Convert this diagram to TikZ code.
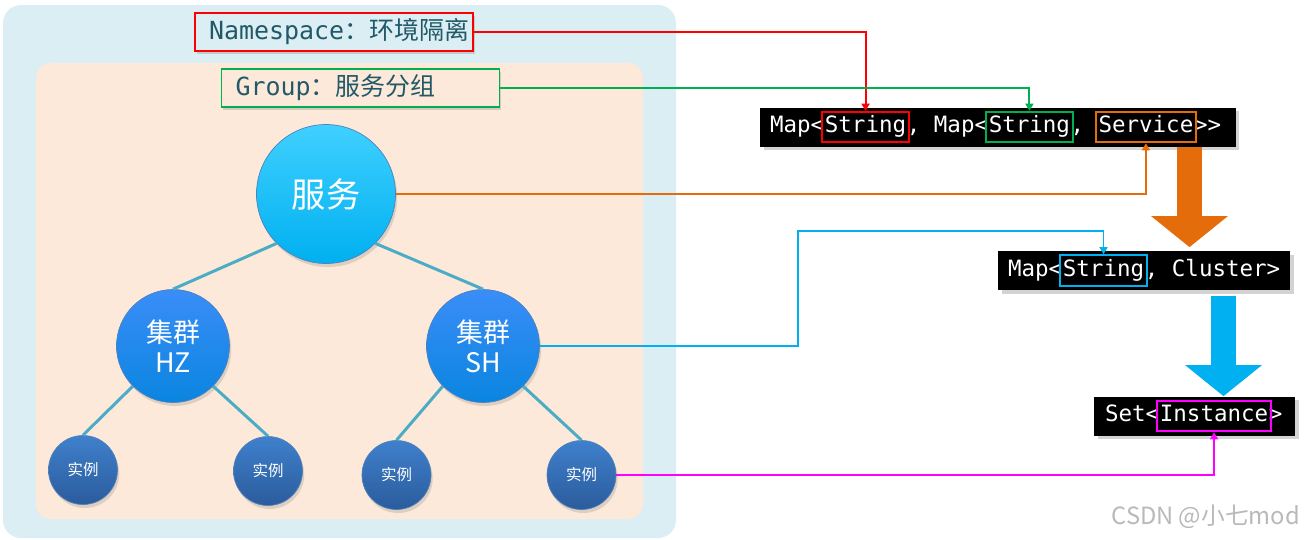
\documentclass[tikz,border=0pt]{standalone}
\usepackage{fontspec}
\setmainfont{Noto Sans CJK SC}
\newfontfamily\codefont{DejaVu Sans Mono}
\usetikzlibrary{positioning,arrows.meta,fit,shadows}
\definecolor{PaleAqua}{HTML}{DAEEF3}
\definecolor{PalePeach}{HTML}{FDE9D9}
\definecolor{LabelTeal}{HTML}{215968}
\definecolor{TreeLine}{HTML}{4BACC6}
\definecolor{NsRed}{HTML}{FF0000}
\definecolor{GrpGreen}{HTML}{00B050}
\definecolor{SvcOrange}{HTML}{E46C0A}
\definecolor{ClsBlue}{HTML}{00B0F0}
\definecolor{InsMagenta}{HTML}{FF00FF}
\definecolor{SvcTop}{HTML}{40D0FF}
\definecolor{SvcBot}{HTML}{00B0F0}
\definecolor{ClsTop}{HTML}{3A8DF7}
\definecolor{ClsBot}{HTML}{0A85E0}
\definecolor{InsTop}{HTML}{3F80CC}
\definecolor{InsBot}{HTML}{2B5C9C}
\definecolor{RimBlue}{HTML}{4F81BD}

\begin{document}
\begin{tikzpicture}[x=0.02cm,y=-0.02cm,>={Triangle[length=4pt,width=4.5pt]}]
      \tikzstyle{tag}=[draw,line width=1.1pt,minimum height=.6cm,inner xsep=.28cm,text width=5cm,align=left,font=\fontsize{14.2}{16}\selectfont,text=LabelTeal,drop shadow={opacity=.3,shadow xshift=1pt,shadow yshift=-1.5pt}]
      \tikzstyle{ball}=[circle,draw=RimBlue,line width=.4pt,text=white,align=center,drop shadow={opacity=.25,shadow xshift=1pt,shadow yshift=-2pt}]
      \tikzstyle{branch}=[TreeLine,line width=1.7pt]
      \tikzstyle{codebar}=[fill=black,minimum height=.78cm,inner sep=0pt,drop shadow={opacity=.35,shadow xshift=2pt,shadow yshift=-2pt}]
      \tikzstyle{code}=[inner sep=0pt,text=white,font=\codefont\fontsize{12.8}{14}\selectfont,text height=9pt,text depth=2.5pt]
      \tikzstyle{hl}=[line width=1.1pt,inner xsep=1.5pt,inner ysep=2.75pt]
      \tikzstyle{link}=[->,line width=1.1pt]
      \tikzstyle{bigarrow}=[line width=.5cm,-{Triangle[length=.62cm,width=1.5cm]}]
      \useasboundingbox (0,0) rectangle (1310,539);
      % namespace / group areas
      \fill[PaleAqua,rounded corners=.36cm] (3,5) rectangle (676,538);
      \fill[PalePeach,rounded corners=.3cm] (36,63) rectangle (643,519);
      \node[tag,draw=NsRed,fill=PaleAqua] (ns) at (334,32) {{\codefont Namespace}：环境隔离};
      \node[tag,draw=GrpGreen,fill=PalePeach] (grp) at (360.5,88) {{\codefont Group}：服务分组};
      % tree
      \node[ball,minimum size=2.78cm,top color=SvcTop,bottom color=SvcBot,font=\fontsize{19.5}{22}\selectfont] (svc) at (326,194) {服务};
      \node[ball,minimum size=2.26cm,top color=ClsTop,bottom color=ClsBot,font=\fontsize{15.3}{17}\selectfont] (hz) at (173,346) {集群\\HZ};
      \node[ball,minimum size=2.26cm,top color=ClsTop,bottom color=ClsBot,font=\fontsize{15.3}{17}\selectfont] (sh) at (483,346) {集群\\SH};
      \node[ball,minimum size=1.38cm,top color=InsTop,bottom color=InsBot,font=\fontsize{8.8}{10}\selectfont] (i1) at (83,470) {实例};
      \node[ball,minimum size=1.38cm,top color=InsTop,bottom color=InsBot,font=\fontsize{8.8}{10}\selectfont] (i2) at (268,471) {实例};
      \node[ball,minimum size=1.38cm,top color=InsTop,bottom color=InsBot,font=\fontsize{8.8}{10}\selectfont] (i3) at (396.5,475) {实例};
      \node[ball,minimum size=1.38cm,top color=InsTop,bottom color=InsBot,font=\fontsize{8.8}{10}\selectfont] (i4) at (581.5,475) {实例};
      \draw[branch] (svc.225) -- (hz.north);
      \draw[branch] (svc.-45) -- (sh.north);
      \draw[branch] (hz.225) -- (i1.north);
      \draw[branch] (hz.-45) -- (i2.north);
      \draw[branch] (sh.225) -- (i3.north);
      \draw[branch] (sh.-45) -- (i4.north);
      % Map<String, Map<String, Service>>
      \node[codebar,minimum width=9.52cm] (mapone) at (998,127) {};
      \node[code,right=.2cm of mapone.west] (ma) {Map<};
      \node[code,right=0pt of ma] (nsk) {String};
      \node[code,right=0pt of nsk] (mb) {,\ Map<};
      \node[code,right=0pt of mb] (grk) {String};
      \node[code,right=0pt of grk] (mc) {,\phantom{x}};
      \node[code,right=0pt of mc] (svk) {Service};
      \node[code,right=0pt of svk] (md) {>>};
      \node[hl,draw=NsRed,fit=(nsk)] (nsf) {};
      \node[hl,draw=GrpGreen,fit=(grk)] (grf) {};
      \node[hl,draw=SvcOrange,fit=(svk)] (svf) {};
      % Map<String, Cluster>
      \node[codebar,minimum width=5.84cm] (mapcl) at (1144,270.5) {};
      \node[code,right=.2cm of mapcl.west] (mca) {Map<};
      \node[code,right=0pt of mca] (clk) {String};
      \node[code,right=0pt of clk] (mcb) {,\ Cluster>};
      \node[hl,draw=ClsBlue,fit=(clk)] (clf) {};
      % Set<Instance>
      \node[codebar,minimum width=4.02cm] (setins) at (1194.5,416) {};
      \node[code,right=.22cm of setins.west] (sa) {Set<};
      \node[code,right=0pt of sa] (ink) {Instance};
      \node[code,right=0pt of ink] (sb) {>};
      \node[hl,draw=InsMagenta,fit=(ink)] (inf) {};
      \draw[bigarrow,SvcOrange,shorten >=2pt] (1189.5,0 |- mapone.south) -- (1189.5,0 |- mapcl.north);
      \draw[bigarrow,ClsBlue,shorten <=.12cm] (1223.5,0 |- mapcl.south) -- (1223.5,0 |- setins.north);
      % links
      \coordinate (bend) at (798,231);
      \draw[link,NsRed] (ns.east) -| (nsf.north);
      \draw[link,GrpGreen] (grp.east) -| (grf.north);
      \draw[link,SvcOrange] (svc.east) -| (svf.south);
      \draw[link,ClsBlue] (sh.east) -| (bend) -| (clf.north);
      \draw[link,InsMagenta] (i4.east) -| (inf.south);
      \node[font=\fontsize{13.5}{16}\selectfont,text=gray!55,anchor=east] (mark) at (1306,517) {CSDN @小七mod};
    \end{tikzpicture}
\end{document}
